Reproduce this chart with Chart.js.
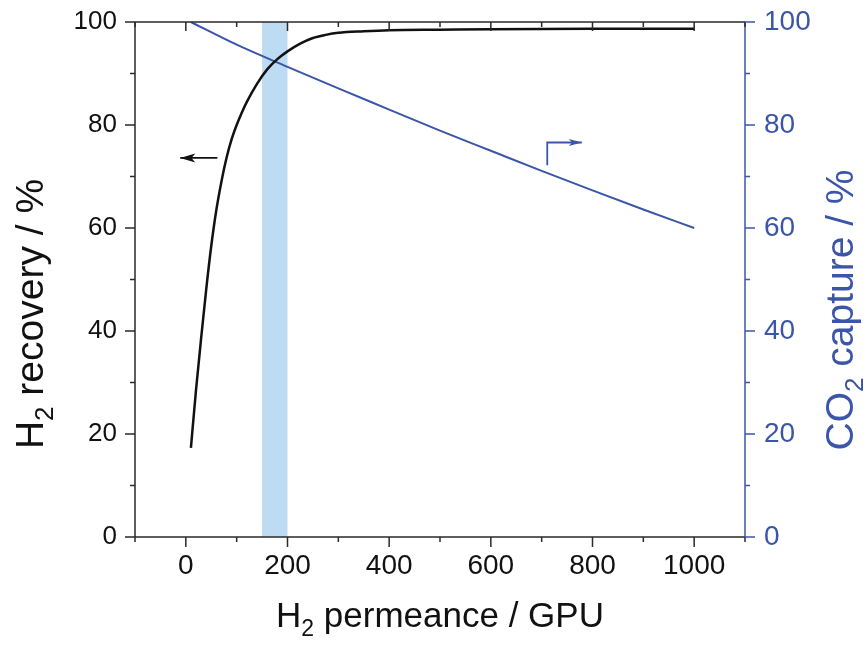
<!DOCTYPE html>
<html>
<head>
<meta charset="utf-8">
<script src="https://cdn.jsdelivr.net/npm/chart.js@4/dist/chart.umd.min.js"></script>
<style>html,body{margin:0;padding:0;background:#fff;}canvas{display:block;}</style>
</head>
<body>
<canvas id="c" width="867" height="650"></canvas>
<script>
// ---- data ----
const permeance  = [10,20,30,40,50,60,70,80,90,100,110,120,140,160,180,200,225,250,275,300,350,400,500,600,800,1000];
const h2Recovery = [17.3,28.5,38.5,48,56.5,63.5,69.0,73.6,77.2,80.0,82.4,84.5,88.0,90.8,92.8,94.3,95.8,96.9,97.5,97.9,98.2,98.4,98.5,98.6,98.7,98.7];
const co2Perm    = [10,100,200,300,400,500,600,700,800,900,1000];
const co2Capture = [100,95.6,91.3,87.1,83.0,78.9,75.0,71.1,67.3,63.6,60.0];
const bandRange  = [150,200];
const arrowLeftX = [62,-11];
const arrowLeftY = [73.6,73.6];
const arrowRightX = [711,711,779];
const arrowRightY = [72.2,76.6,76.6];
const xTicks = [0,200,400,600,800,1000];
const yTicks = [0,20,40,60,80,100];
const xLimits = [-100,1100];
const yLimits = [0,100];

const BLUE = '#3b55a8';
const BLACK = '#111111';
const AXIS = '#2a2a2a';
const FONT = '"Liberation Sans", Arial, sans-serif';

const toXY = (xs, ys) => xs.map((x, i) => ({x: x, y: ys[i]}));

const bandPlugin = {
  id: 'band',
  beforeDatasetsDraw(chart) {
    const {ctx, chartArea, scales} = chart;
    const x0 = scales.x.getPixelForValue(bandRange[0]);
    const x1 = scales.x.getPixelForValue(bandRange[1]);
    ctx.save();
    ctx.fillStyle = '#bddcf3';
    ctx.fillRect(x0, chartArea.top, x1 - x0, chartArea.bottom - chartArea.top);
    ctx.restore();
  }
};

const arrowPlugin = {
  id: 'arrowheads',
  afterDatasetsDraw(chart) {
    const ctx = chart.ctx;
    chart.data.datasets.forEach((ds, i) => {
      if (!ds.arrow) return;
      const pts = chart.getDatasetMeta(i).data;
      const a = pts[pts.length - 2], b = pts[pts.length - 1];
      const ang = Math.atan2(b.y - a.y, b.x - a.x);
      const L = ds.arrow.len, W = ds.arrow.half;
      ctx.save();
      ctx.translate(b.x, b.y);
      ctx.rotate(ang);
      ctx.fillStyle = ds.borderColor;
      ctx.beginPath();
      ctx.moveTo(0, 0);
      ctx.lineTo(-L, -W);
      ctx.lineTo(-L * 0.75, 0);
      ctx.lineTo(-L, W);
      ctx.closePath();
      ctx.fill();
      ctx.restore();
    });
  }
};

function midValues(ticks, lo, hi) {
  const step = ticks[1] - ticks[0];
  const out = [];
  for (let v = ticks[0] - step / 2; v >= lo; v -= step) out.push(v);
  for (let v = ticks[0] + step / 2; v <= hi; v += step) out.push(v);
  return out;
}

const framePlugin = {
  id: 'frame',
  afterDraw(chart) {
    const {ctx, chartArea: ca, scales} = chart;
    const xs = scales.x, ys = scales.y, y2 = scales.y2;
    ctx.save();
    ctx.lineWidth = 1.5;
    ctx.strokeStyle = AXIS;
    ctx.beginPath();
    ctx.moveTo(ca.left, ca.top); ctx.lineTo(ca.right, ca.top);
    ctx.moveTo(ca.left, ca.top); ctx.lineTo(ca.left, ca.bottom);
    ctx.moveTo(ca.left, ca.bottom); ctx.lineTo(ca.right, ca.bottom);
    ctx.stroke();
    ctx.strokeStyle = BLUE;
    ctx.beginPath();
    ctx.moveTo(ca.right, ca.top); ctx.lineTo(ca.right, ca.bottom);
    ctx.stroke();
    ctx.strokeStyle = AXIS;
    ctx.beginPath();
    xs.ticks.forEach(t => {
      const p = xs.getPixelForValue(t.value);
      ctx.moveTo(p, ca.bottom); ctx.lineTo(p, ca.bottom + 10);
      ctx.moveTo(p, ca.top); ctx.lineTo(p, ca.top + 9);
    });
    midValues(xTicks, xLimits[0], xLimits[1]).forEach(v => {
      const p = xs.getPixelForValue(v);
      ctx.moveTo(p, ca.bottom); ctx.lineTo(p, ca.bottom + 5);
      ctx.moveTo(p, ca.top); ctx.lineTo(p, ca.top + 5);
    });
    ys.ticks.forEach(t => {
      const p = ys.getPixelForValue(t.value);
      ctx.moveTo(ca.left, p); ctx.lineTo(ca.left - 10, p);
    });
    midValues(yTicks, yLimits[0], yLimits[1]).forEach(v => {
      const p = ys.getPixelForValue(v);
      ctx.moveTo(ca.left, p); ctx.lineTo(ca.left - 5, p);
    });
    ctx.stroke();
    ctx.strokeStyle = BLUE;
    ctx.beginPath();
    y2.ticks.forEach(t => {
      const p = y2.getPixelForValue(t.value);
      ctx.moveTo(ca.right, p); ctx.lineTo(ca.right + 10, p);
    });
    midValues(yTicks, yLimits[0], yLimits[1]).forEach(v => {
      const p = y2.getPixelForValue(v);
      ctx.moveTo(ca.right, p); ctx.lineTo(ca.right + 5, p);
    });
    ctx.stroke();
    ctx.restore();

    drawTitle(ctx, [['H',35,0],['2',23,9],[' permeance / GPU',35,0]], (ca.left + ca.right) / 2, 627, 0, BLACK);
    drawTitle(ctx, [['H',39,0],['2',26,10],[' recovery / %',39,0]], 43, 314, -Math.PI / 2, BLACK);
    drawTitle(ctx, [['CO',39,0],['2',26,10],[' capture / %',39,0]], 853, 310, -Math.PI / 2, BLUE);
  }
};

function drawTitle(ctx, parts, x, y, rot, color) {
  ctx.save();
  ctx.translate(x, y);
  ctx.rotate(rot);
  ctx.fillStyle = color;
  ctx.textBaseline = 'alphabetic';
  ctx.textAlign = 'left';
  let total = 0;
  const widths = parts.map(p => { ctx.font = p[1] + 'px ' + FONT; const w = ctx.measureText(p[0]).width; total += w; return w; });
  let cx = -total / 2;
  parts.forEach((p, i) => {
    ctx.font = p[1] + 'px ' + FONT;
    ctx.fillText(p[0], cx, p[2]);
    cx += widths[i];
  });
  ctx.restore();
}

const plainLabel = v => String(v);

new Chart(document.getElementById('c'), {
  type: 'line',
  data: {
    datasets: [
      { data: toXY(permeance, h2Recovery), yAxisID: 'y', borderColor: BLACK, borderWidth: 2.5, pointRadius: 0, cubicInterpolationMode: 'monotone', fill: false },
      { data: toXY(co2Perm, co2Capture), yAxisID: 'y2', borderColor: BLUE, borderWidth: 2, pointRadius: 0, cubicInterpolationMode: 'monotone', fill: false },
      { data: toXY(arrowLeftX, arrowLeftY), yAxisID: 'y', borderColor: BLACK, borderWidth: 1.8, pointRadius: 0, arrow: {len: 15, half: 4.5} },
      { data: toXY(arrowRightX, arrowRightY), yAxisID: 'y2', borderColor: BLUE, borderWidth: 1.8, pointRadius: 0, tension: 0, arrow: {len: 13, half: 3.5} }
    ]
  },
  options: {
    responsive: false,
    animation: false,
    devicePixelRatio: 1,
    layout: { padding: { top: 22, left: 0, right: 0, bottom: 0 } },
    plugins: { legend: { display: false }, tooltip: { enabled: false } },
    scales: {
      x: {
        type: 'linear', position: 'bottom', min: xLimits[0], max: xLimits[1],
        afterBuildTicks: s => { s.ticks = xTicks.map(v => ({value: v})); },
        afterFit: s => { s.height = 113; s.paddingLeft = 0; s.paddingRight = 0; },
        grid: { display: false, drawTicks: false },
        border: { display: false },
        ticks: { color: BLACK, font: { family: FONT, size: 28 }, padding: 12, maxRotation: 0, callback: plainLabel }
      },
      y: {
        type: 'linear', position: 'left', min: yLimits[0], max: yLimits[1],
        afterBuildTicks: s => { s.ticks = yTicks.map(v => ({value: v})); },
        afterFit: s => { s.width = 135; s.paddingTop = 0; s.paddingBottom = 0; },
        grid: { display: false, drawTicks: false },
        border: { display: false },
        ticks: { color: BLACK, font: { family: FONT, size: 26 }, padding: 18, callback: plainLabel }
      },
      y2: {
        type: 'linear', position: 'right', min: yLimits[0], max: yLimits[1],
        afterBuildTicks: s => { s.ticks = yTicks.map(v => ({value: v})); },
        afterFit: s => { s.width = 122; s.paddingTop = 0; s.paddingBottom = 0; },
        grid: { display: false, drawTicks: false },
        border: { display: false },
        ticks: { color: BLUE, font: { family: FONT, size: 28 }, padding: 19, callback: plainLabel }
      }
    }
  },
  plugins: [bandPlugin, arrowPlugin, framePlugin]
});
</script>
</body>
</html>
